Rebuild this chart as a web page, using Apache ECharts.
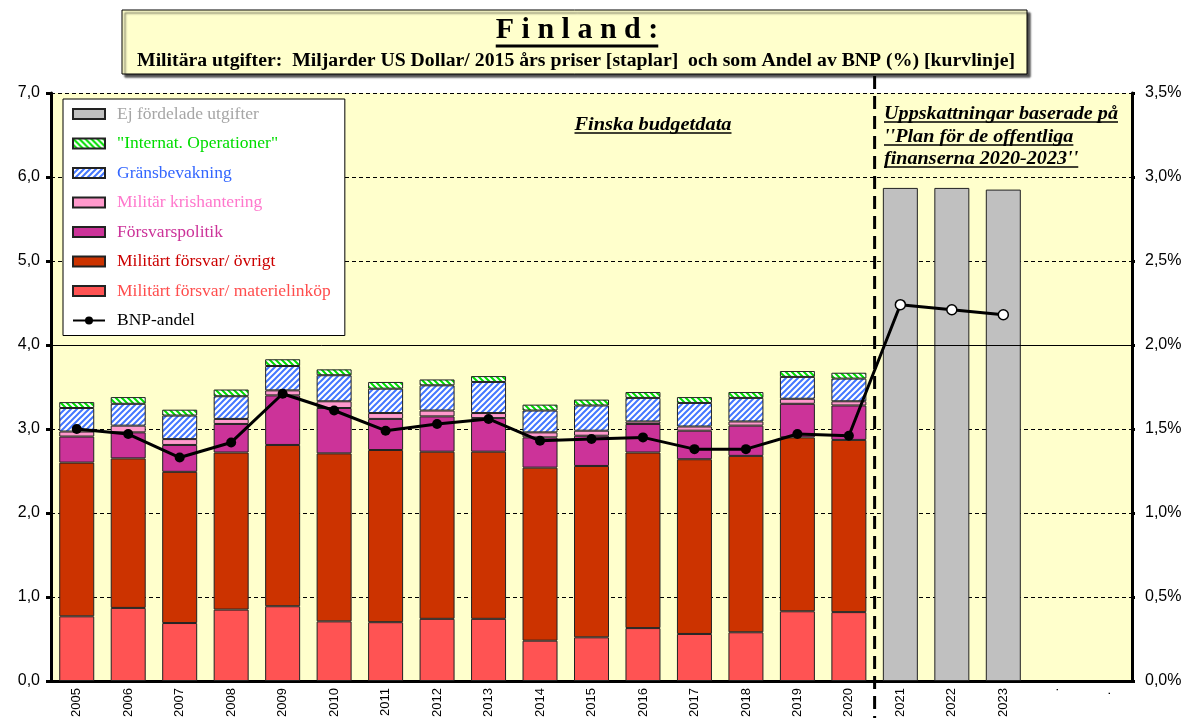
<!DOCTYPE html>
<html>
<head>
<meta charset="utf-8">
<script src="https://cdn.jsdelivr.net/npm/echarts@6/dist/echarts.min.js"></script>
<style>
  html, body { margin: 0; padding: 0; background: #fff; }
  #chart { width: 1188px; height: 724px; }
</style>
</head>
<body>
<div id="chart"></div>
<script>
// categories (the last two are empty slots in the original)
const years = ['2005', '2006', '2007', '2008', '2009', '2010', '2011', '2012', '2013', '2014',
  '2015', '2016', '2017', '2018', '2019', '2020', '2021', '2022', '2023', '.', '. ']

// miljarder USD, 2015 års priser
const materiel = [0.77, 0.87, 0.69, 0.85, 0.89, 0.71, 0.70, 0.74, 0.74, 0.48, 0.52, 0.63, 0.56, 0.58, 0.83, 0.82, null, null, null, null, null]
const ovrigt = [1.83, 1.78, 1.80, 1.87, 1.92, 2.00, 2.05, 1.99, 1.99, 2.06, 2.04, 2.09, 2.08, 2.10, 2.07, 2.05, null, null, null, null, null]
const politik = [0.31, 0.31, 0.32, 0.34, 0.59, 0.54, 0.37, 0.42, 0.40, 0.36, 0.36, 0.34, 0.34, 0.36, 0.40, 0.41, null, null, null, null, null]
const kris = [0.06, 0.08, 0.07, 0.06, 0.06, 0.08, 0.07, 0.07, 0.06, 0.06, 0.06, 0.03, 0.05, 0.05, 0.06, 0.05, null, null, null, null, null]
const grans = [0.28, 0.26, 0.28, 0.27, 0.29, 0.31, 0.29, 0.30, 0.37, 0.26, 0.30, 0.28, 0.28, 0.28, 0.26, 0.27, null, null, null, null, null]
const intops = [0.07, 0.08, 0.07, 0.08, 0.08, 0.07, 0.08, 0.07, 0.07, 0.07, 0.07, 0.07, 0.07, 0.07, 0.07, 0.07, null, null, null, null, null]
const ejFordelade = [null, null, null, null, null, null, null, null, null, null, null, null, null, null, null, null, 5.87, 5.87, 5.85, null, null]
// andel av BNP (%)
const bnp = [1.50, 1.47, 1.33, 1.42, 1.71, 1.61, 1.49, 1.53, 1.56, 1.43, 1.44, 1.45, 1.38, 1.38, 1.47, 1.46, 2.24, 2.21, 2.18, null, null]
const firstEstimate = 16

const yLeftTicks = { min: 0, max: 7, interval: 1 }
const yRightTicks = { min: 0, max: 3.5, interval: 0.5 }

function stripes(color, up) {
  const c = document.createElement('canvas')
  c.width = 6
  c.height = 6
  const g = c.getContext('2d')
  g.fillStyle = '#fff'
  g.fillRect(0, 0, 6, 6)
  g.strokeStyle = color
  g.lineWidth = 2
  g.beginPath()
  if (up) {
    g.moveTo(-1, 7); g.lineTo(7, -1)
    g.moveTo(-1, 1); g.lineTo(1, -1)
    g.moveTo(5, 7); g.lineTo(7, 5)
  } else {
    g.moveTo(-1, -1); g.lineTo(7, 7)
    g.moveTo(5, -1); g.lineTo(7, 1)
    g.moveTo(-1, 5); g.lineTo(1, 7)
  }
  g.stroke()
  return { image: c, repeat: 'repeat' }
}

const measure = document.createElement('canvas').getContext('2d')
function textWidth(text, font) {
  measure.font = font
  return measure.measureText(text).width
}

const serif = '"Liberation Serif", "Times New Roman", serif'
const sans = '"Liberation Sans", Arial, sans-serif'

function barSeries(name, data, color) {
  return {
    name: name,
    type: 'bar',
    stack: 'total',
    barWidth: 35,
    data: data,
    itemStyle: { color: color, borderColor: '#222', borderWidth: 1 }
  }
}

const chart = echarts.init(document.getElementById('chart'))

const series = [
  barSeries('Militärt försvar/ materielinköp', materiel, '#FF5353'),
  barSeries('Militärt försvar/ övrigt', ovrigt, '#CC3300'),
  barSeries('Försvarspolitik', politik, '#CC3399'),
  barSeries('Militär krishantering', kris, '#FF99CC'),
  barSeries('Gränsbevakning', grans, stripes('#4477FF', true)),
  barSeries('"Internat. Operationer"', intops, stripes('#00DD00', false)),
  barSeries('Ej fördelade utgifter', ejFordelade, '#C0C0C0'),
  {
    name: 'BNP-andel',
    type: 'line',
    yAxisIndex: 1,
    data: bnp.map((v, i) => i >= firstEstimate
      ? { value: v, itemStyle: { color: '#fff', borderColor: '#000', borderWidth: 1.5 } }
      : v),
    symbol: 'circle',
    symbolSize: 10,
    lineStyle: { color: '#000', width: 3 },
    itemStyle: { color: '#000' },
    z: 5
  }
]
series[0].markLine = {
  silent: true,
  symbol: 'none',
  label: { show: false },
  lineStyle: { color: '#000', width: 1, type: 'solid' },
  data: [{ yAxis: 4 }]
}

const legendColors = {
  'Ej fördelade utgifter': '#A6A6A6',
  '"Internat. Operationer"': '#00DD00',
  'Gränsbevakning': '#3366FF',
  'Militär krishantering': '#FF77CC',
  'Försvarspolitik': '#CC3399',
  'Militärt försvar/ övrigt': '#CC0000',
  'Militärt försvar/ materielinköp': '#FF4D4D',
  'BNP-andel': '#000'
}

const option = {
  animation: false,
  grid: {
    left: 51, right: 56, top: 93, bottom: 43,
    show: true, backgroundColor: '#FFFFCC', borderWidth: 0
  },
  legend: {
    orient: 'vertical',
    left: 63,
    top: 99,
    backgroundColor: '#fff',
    borderColor: '#000',
    borderWidth: 1,
    padding: [6, 14, 6, 9],
    itemWidth: 32,
    itemHeight: 10,
    itemGap: 11.5,
    textStyle: { fontFamily: serif, fontSize: 17.5, padding: [0, 0, 0, 7] },
    data: Object.keys(legendColors).map(n => n === 'BNP-andel'
      ? { name: n, textStyle: { color: legendColors[n] } }
      : { name: n, icon: 'rect', textStyle: { color: legendColors[n] } })
  },
  xAxis: {
    type: 'category',
    data: years,
    axisLine: { lineStyle: { color: '#000', width: 3 } },
    axisTick: { length: 5, lineStyle: { color: '#000', width: 3 } },
    axisLabel: { rotate: 90, color: '#000', fontFamily: sans, fontSize: 13, margin: 7, interval: 0 }
  },
  yAxis: [
    {
      type: 'value',
      min: yLeftTicks.min, max: yLeftTicks.max, interval: yLeftTicks.interval,
      axisLine: { show: true, lineStyle: { color: '#000', width: 3 } },
      axisTick: { show: true, length: 5, lineStyle: { color: '#000', width: 3 } },
      axisLabel: { color: '#000', fontFamily: sans, fontSize: 16, margin: 11,
        formatter: v => v.toFixed(1).replace('.', ',') },
      splitLine: { lineStyle: { color: '#000', width: 1, type: [4, 3] } }
    },
    {
      type: 'value',
      min: yRightTicks.min, max: yRightTicks.max, interval: yRightTicks.interval,
      axisLine: { show: true, lineStyle: { color: '#000', width: 3 } },
      axisTick: { show: true, length: 3, lineStyle: { color: '#000', width: 3 } },
      axisLabel: { color: '#000', fontFamily: sans, fontSize: 16, margin: 13,
        formatter: v => v.toFixed(1).replace('.', ',') + '%' },
      splitLine: { show: false }
    }
  ],
  series: series
}
chart.setOption(option)

// title box, annotations and the divider between budget data and estimates
const titleFont = 'bold 30px ' + serif
const subFont = 'bold 18px ' + serif
const noteFont = 'bold italic 19px ' + serif
const titleText = 'F i n l a n d :'
const subText = 'Militära utgifter:  Miljarder US Dollar/ 2015 års priser [staplar]  och som Andel av BNP (%) [kurvlinje]'
const subScale = 878 / textWidth(subText, subFont)
const titleW = textWidth(titleText, titleFont)
const noteLines = ['Uppskattningar baserade på', "''Plan för de offentliga", "finanserna 2020-2023''"]
const noteScale = 234 / textWidth(noteLines[0], noteFont)
const budgetText = 'Finska budgetdata'
const budgetScale = 157 / textWidth(budgetText, noteFont)

function underlined(text, x, y, align, scale) {
  const w = textWidth(text, noteFont) * scale
  const x0 = align === 'center' ? x - w / 2 : x
  return [
    { type: 'text', x: x, y: y, scaleX: scale, style: { text: text, x: 0, y: 0, font: noteFont, fill: '#000', textAlign: align, textVerticalAlign: 'middle' }, z: 20 },
    { type: 'line', shape: { x1: x0, y1: y + 8, x2: x0 + w, y2: y + 8 }, style: { stroke: '#000', lineWidth: 1.5 }, z: 20 }
  ]
}

const xa = chart.convertToPixel({ xAxisIndex: 0 }, years[firstEstimate - 1])
const xb = chart.convertToPixel({ xAxisIndex: 0 }, years[firstEstimate])
const divX = (xa + xb) / 2

chart.setOption({
  graphic: [
    {
      type: 'rect',
      shape: { x: 122, y: 10, width: 905, height: 64 },
      style: { fill: '#FFFFCC', stroke: '#000', lineWidth: 1, shadowColor: 'rgba(0,0,0,0.7)', shadowOffsetX: 3, shadowOffsetY: 3, shadowBlur: 2 },
      z: 10
    },
    { type: 'text', style: { text: titleText, x: 577, y: 30, font: titleFont, fill: '#000', textAlign: 'center', textVerticalAlign: 'middle' }, z: 11 },
    { type: 'line', shape: { x1: 577 - titleW / 2, y1: 46, x2: 577 + titleW / 2, y2: 46 }, style: { stroke: '#000', lineWidth: 3 }, z: 11 },
    { type: 'text', x: 576, y: 61, scaleX: subScale, style: { text: subText, x: 0, y: 0, font: subFont, fill: '#000', textAlign: 'center', textVerticalAlign: 'middle' }, z: 11 },
    ...underlined(budgetText, 653, 125, 'center', budgetScale),
    ...underlined(noteLines[0], 884, 114, 'left', noteScale),
    ...underlined(noteLines[1], 884, 137, 'left', noteScale),
    ...underlined(noteLines[2], 884, 159, 'left', noteScale),
    {
      type: 'line',
      shape: { x1: divX, y1: 76, x2: divX, y2: 718 },
      style: { stroke: '#000', lineWidth: 3, lineDash: [13, 7] },
      z: 15
    }
  ]
})
</script>
</body>
</html>
